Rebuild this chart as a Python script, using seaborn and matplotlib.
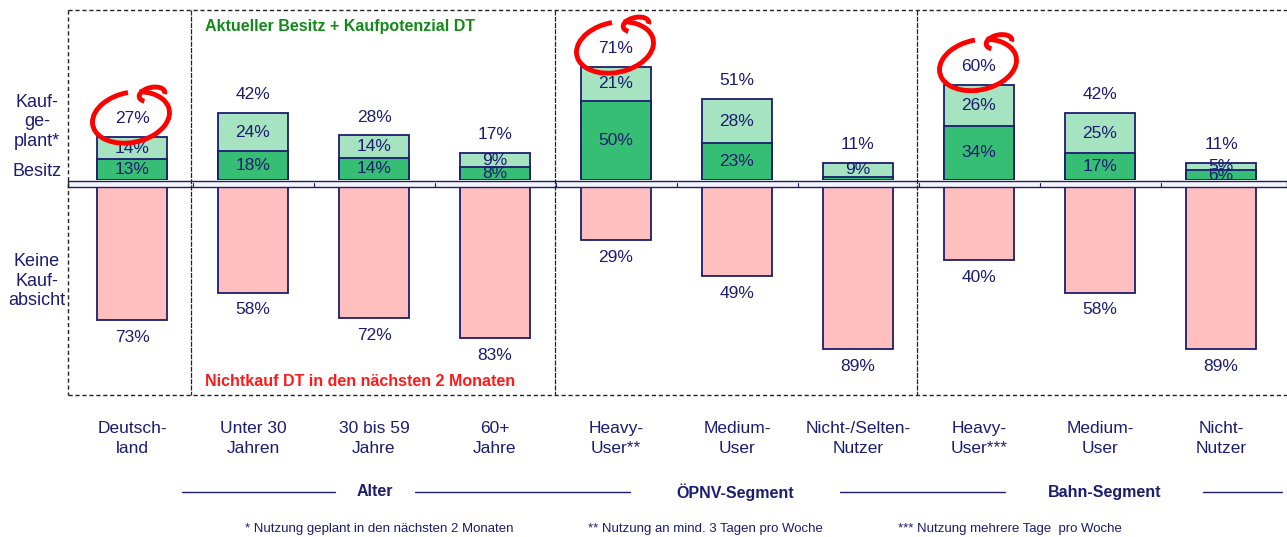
import pandas as pd
import matplotlib
matplotlib.use("Agg")
import matplotlib.pyplot as plt
from matplotlib.patches import Rectangle, Arc
import seaborn as sns

# ---------------------------
# Data
# ---------------------------

keys = ["DE", "U30", "A30_59", "A60", "OEPNV_heavy", "OEPNV_medium",
        "OEPNV_selten", "BAHN_heavy", "BAHN_medium", "BAHN_nicht"]
tick_labels = ["Deutsch-\nland", "Unter 30\nJahren", "30 bis 59\nJahre",
               "60+\nJahre", "Heavy-\nUser**", "Medium-\nUser",
               "Nicht-/Selten-\nNutzer", "Heavy-\nUser***", "Medium-\nUser",
               "Nicht-\nNutzer"]
besitz = [13, 18, 14, 8, 50, 23, 2, 34, 17, 6]
kaufgeplant = [14, 24, 14, 9, 21, 28, 9, 26, 25, 5]
total = [27, 42, 28, 17, 71, 51, 11, 60, 42, 11]
keine_kaufabsicht = [73, 58, 72, 83, 29, 49, 89, 40, 58, 89]
circled = ["DE", "OEPNV_heavy", "BAHN_heavy"]

groups = ["Alter", "ÖPNV-Segment", "Bahn-Segment"]
footnotes = ["* Nutzung geplant in den nächsten 2 Monaten",
             "** Nutzung an mind. 3 Tagen pro Woche",
             "*** Nutzung mehrere Tage  pro Woche"]

df = pd.DataFrame({
    "key": keys,
    "besitz": besitz,
    "kaufgeplant": kaufgeplant,
    "total": total,
    "keine": [-v for v in keine_kaufabsicht],
})

LIGHT = "#a6e3c1"
DARK = "#37be75"
PINK = "#ffbfbf"
NAVY = "#1c1c70"
GREEN_TXT = "#13891a"
RED_TXT = "#ff1a1a"

sns.set_theme(style="white")
plt.rcParams["font.family"] = ["Liberation Sans", "DejaVu Sans"]

W, H = 1287, 537
fig = plt.figure(figsize=(W / 100, H / 100), dpi=100)


def px_rect(x0, y0, x1, y1):
    return [x0 / W, 1 - y1 / H, (x1 - x0) / W, (y1 - y0) / H]


ax_top = fig.add_axes(px_rect(0, 10, W, 180))
ax_bot = fig.add_axes(px_rect(0, 187, W, 395))
ax_ov = fig.add_axes([0, 0, 1, 1])
ax_ov.set_xlim(0, W)
ax_ov.set_ylim(H, 0)
ax_ov.axis("off")
ax_ov.patch.set_alpha(0)

bar_kw = dict(order=keys, width=0.58, edgecolor=NAVY, linewidth=1.3,
              saturation=1)

# ---------------------------
# Positive part: Besitz + Kaufgeplant
# ---------------------------

sns.barplot(data=df, x="key", y="total", color=LIGHT, ax=ax_top, **bar_kw)
sns.barplot(data=df, x="key", y="besitz", color=DARK, ax=ax_top, **bar_kw)

ax_top.set_xlim(-132 / 121, (W - 132) / 121)
ax_top.set_ylim(0, 170 / 1.59)
ax_top.axis("off")

for i, k in enumerate(keys):
    ax_top.text(i, total[i] + 11.5, f"{total[i]}%", ha="center", va="center",
                fontsize=12.5, color=NAVY)
    ax_top.text(i, besitz[i] + kaufgeplant[i] / 2, f"{kaufgeplant[i]}%",
                ha="center", va="center", fontsize=12.5, color=NAVY)
    if besitz[i] >= 5:
        ax_top.text(i, besitz[i] / 2, f"{besitz[i]}%", ha="center",
                    va="center", fontsize=12.5, color=NAVY)

# red hand-drawn circles around the highlighted totals
to_px = ax_ov.transData.inverted()
for k in circled:
    i = keys.index(k)
    cx, cy = to_px.transform(ax_top.transData.transform((i, total[i] + 13)))
    ax_ov.add_patch(Arc((cx - 1, cy + 1), 78, 50, angle=-12, theta1=-60,
                        theta2=275, color="red", lw=3.5))
    ax_ov.add_patch(Arc((cx + 20, cy - 22), 26, 14, angle=-12, theta1=150,
                        theta2=370, color="red", lw=3.5))

# ---------------------------
# Negative part: Keine Kaufabsicht
# ---------------------------

sns.barplot(data=df, x="key", y="keine", color=PINK, ax=ax_bot, **bar_kw)

for i in range(len(keys)):
    ax_bot.text(i, -keine_kaufabsicht[i] - 9.5, f"{keine_kaufabsicht[i]}%",
                ha="center", va="center", fontsize=12.5, color=NAVY)

ax_bot.set_xlim(-132 / 121, (W - 132) / 121)
ax_bot.set_ylim(-208 / 1.82, 0)
ax_bot.set_xticks(range(len(keys)))
ax_bot.set_xticklabels(tick_labels)
ax_bot.tick_params(axis="x", length=0, pad=19, labelsize=12.5,
                   labelcolor=NAVY)
for lab in ax_bot.get_xticklabels():
    lab.set_linespacing(1.35)
ax_bot.set_yticks([])
ax_bot.set_xlabel("")
ax_bot.set_ylabel("")
for s in ax_bot.spines.values():
    s.set_visible(False)
ax_bot.patch.set_alpha(0)

# ---------------------------
# Frame, baseline band and texts
# ---------------------------

dash = (0, (3, 2))
ax_ov.plot([68, W], [10, 10], color="#222222", lw=1, linestyle=dash)
ax_ov.plot([68, W], [395, 395], color="#222222", lw=1, linestyle=dash)
ax_ov.plot([68, 68], [10, 395], color="#222222", lw=1, linestyle=dash)
for xd in [191, 555, 917]:
    ax_ov.plot([xd, xd], [10, 395], color="#222222", lw=0.9,
               linestyle=(0, (4, 1)))

ax_ov.add_patch(Rectangle((68, 180.5), W - 68, 6, facecolor="#f4f4fb",
                          edgecolor=NAVY, lw=1))
for i in range(len(keys) - 1):
    xb = 132 + 121 * (i + 0.5)
    ax_ov.plot([xb, xb], [183, 186.5], color=NAVY, lw=0.8)

ax_ov.text(37, 122, "Kauf-\nge-\nplant*", ha="center", va="center",
           multialignment="center", fontsize=13, color=NAVY,
           linespacing=1.2)
ax_ov.text(37, 172, "Besitz", ha="center", va="center", fontsize=13,
           color=NAVY)
ax_ov.text(37, 281, "Keine\nKauf-\nabsicht", ha="center", va="center",
           multialignment="center", fontsize=13, color=NAVY,
           linespacing=1.2)

ax_ov.text(205, 27, "Aktueller Besitz + Kaufpotenzial DT", ha="left",
           va="center", fontsize=11.5, fontweight="bold", color=GREEN_TXT)
ax_ov.text(205, 381, "Nichtkauf DT in den nächsten 2 Monaten", ha="left",
           va="center", fontsize=11.5, fontweight="bold", color=RED_TXT)

for x0, x1 in [(182, 335), (415, 630), (840, 1005), (1203, 1282)]:
    ax_ov.plot([x0, x1], [492, 492], color=NAVY, lw=1)
for xc, g in zip([375, 735, 1105], groups):
    ax_ov.text(xc, 492, g, ha="center", va="center", fontsize=11.5,
               fontweight="bold", color=NAVY)

for xs, t in zip([245, 588, 898], footnotes):
    ax_ov.text(xs, 529, t, ha="left", va="center", fontsize=9.5, color=NAVY)

plt.savefig("out.png", dpi=100)
